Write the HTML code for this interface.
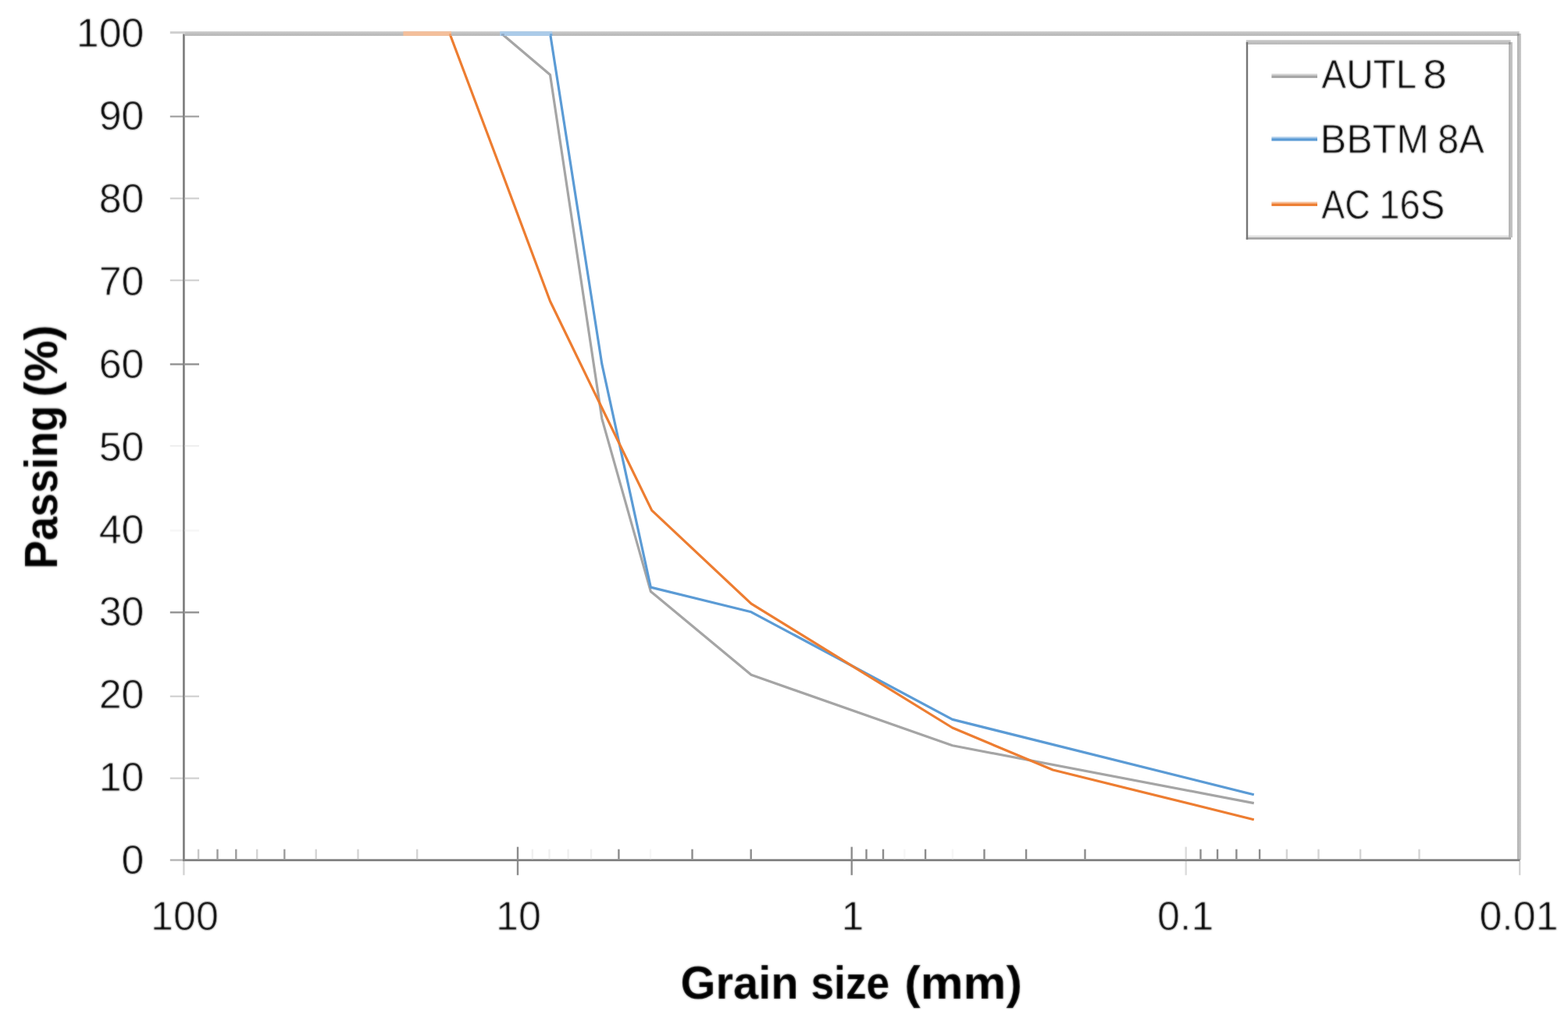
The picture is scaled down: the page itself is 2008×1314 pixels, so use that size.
<!DOCTYPE html>
<html lang="en"><head><meta charset="utf-8"><title>Grain size distribution</title>
<style>html,body{margin:0;padding:0;background:#fff}svg{display:block}text{font-family:"Liberation Sans",sans-serif;fill:#000}text{stroke:#fff;paint-order:fill stroke;stroke-linejoin:round}.t{font-size:52px;stroke-width:.8px}.b{font-size:60px;font-weight:bold;stroke-width:0}</style></head><body>
<svg width="2008" height="1314" viewBox="0 0 2008 1314">
<rect width="2008" height="1314" fill="#fff"/>
<filter id="soft" filterUnits="userSpaceOnUse" x="0" y="0" width="2008" height="1314" color-interpolation-filters="sRGB"><feGaussianBlur in="SourceGraphic" stdDeviation="0.8" result="b"/><feComposite in="b" in2="SourceGraphic" operator="arithmetic" k1="0" k2="0.55" k3="0.45" k4="0"/></filter>
<g>
<g id="series">
<polyline points="642.0,42.8 704.5,95.7 770.8,536.1 833.3,757.4 962.0,864.3 1219.6,954.8 1605.8,1028.6" fill="none" stroke="#a5a5a5" stroke-width="3.2" stroke-linejoin="round" stroke-linecap="butt"/>
<polyline points="642.0,42.8 704.5,42.8 770.8,466.2 833.3,752.1 962.0,783.8 1219.6,921.4 1605.8,1017.8" fill="none" stroke="#5b9bd5" stroke-width="3.2" stroke-linejoin="round" stroke-linecap="butt"/>
<polyline points="518.3,42.8 575.8,42.8 642.0,218.5 704.5,385.8 770.8,522.3 834.7,653.6 962.0,773.2 1090.8,852.6 1219.6,932.0 1348.3,986.0 1605.8,1049.7" fill="none" stroke="#ed7d31" stroke-width="3.2" stroke-linejoin="round" stroke-linecap="butt"/>
</g>
<defs><linearGradient id="gv" x1="0" y1="0" x2="0" y2="1"><stop offset="0" stop-color="#cbcbcb"/><stop offset="1" stop-color="#b5b5b5"/></linearGradient><linearGradient id="gh" x1="0" y1="0" x2="1" y2="0"><stop offset="0" stop-color="#b3b3b3"/><stop offset="1" stop-color="#c7c7c7"/></linearGradient></defs>
<g id="plot-border">
<rect x="237.0" y="40.2" width="1708.6" height="5.7" fill="url(#gv)"/>
<rect x="1942.9" y="43.0" width="5.0" height="1058.4" fill="url(#gh)"/>
<rect x="1942.9" y="43.0" width="2.7" height="2.9" fill="#9a9a9a"/>
<rect x="516.4" y="40.2" width="61.6" height="5.7" fill="#f4bf9b"/>
<rect x="640.2" y="40.2" width="67.1" height="5.7" fill="#abcbe9"/>
<rect x="575.2" y="43.2" width="2.8" height="2.7" fill="#ee9a62"/>
<rect x="642.0" y="43.2" width="4.0" height="2.7" fill="#8fa9c4"/>
<rect x="704.0" y="43.2" width="3.3" height="2.7" fill="#6ea6da"/>
</g>
<g id="axes">
<rect x="234.0" y="43.4" width="2.8" height="1059.6" fill="#838383"/>
<rect x="234.0" y="1100.2" width="1712.5" height="2.8" fill="#838383"/>
</g>
<g id="yticks" stroke-width="2.4">
<line x1="217.8" y1="41.7" x2="237" y2="41.7" stroke="#cfcfcf" stroke-width="3"/>
<line x1="217.8" y1="149.2" x2="234.0" y2="149.2" stroke="#a8a8a8"/>
<line x1="236.8" y1="149.2" x2="255" y2="149.2" stroke="#a8a8a8"/>
<line x1="217.8" y1="254.1" x2="234.0" y2="254.1" stroke="#d4d4d4"/>
<line x1="236.8" y1="254.1" x2="255" y2="254.1" stroke="#d4d4d4"/>
<line x1="217.8" y1="359.0" x2="234.0" y2="359.0" stroke="#d4d4d4"/>
<line x1="236.8" y1="359.0" x2="255" y2="359.0" stroke="#d4d4d4"/>
<line x1="217.8" y1="466.5" x2="234.0" y2="466.5" stroke="#929292"/>
<line x1="236.8" y1="466.5" x2="255" y2="466.5" stroke="#929292"/>
<line x1="217.8" y1="571.1" x2="234.0" y2="571.1" stroke="#f0f0f0"/>
<line x1="236.8" y1="571.1" x2="255" y2="571.1" stroke="#f0f0f0"/>
<line x1="217.8" y1="679.4" x2="234.0" y2="679.4" stroke="#f6f6f6"/>
<line x1="236.8" y1="679.4" x2="255" y2="679.4" stroke="#f6f6f6"/>
<line x1="217.8" y1="784.3" x2="234.0" y2="784.3" stroke="#929292"/>
<line x1="236.8" y1="784.3" x2="255" y2="784.3" stroke="#929292"/>
<line x1="217.8" y1="891.8" x2="234.0" y2="891.8" stroke="#d4d4d4"/>
<line x1="236.8" y1="891.8" x2="255" y2="891.8" stroke="#d4d4d4"/>
<line x1="217.8" y1="996.7" x2="234.0" y2="996.7" stroke="#d4d4d4"/>
<line x1="236.8" y1="996.7" x2="255" y2="996.7" stroke="#d4d4d4"/>
<line x1="217.8" y1="1101.5" x2="234.0" y2="1101.5" stroke="#b4b4b4"/>
</g>
<g id="xticks" stroke-width="2.4">
<line x1="235.4" y1="1103.0" x2="235.4" y2="1120.8" stroke="#d4d4d4"/>
<line x1="663.0" y1="1084.6" x2="663.0" y2="1100.2" stroke="#8c8c8c"/>
<line x1="663.0" y1="1103.0" x2="663.0" y2="1120.8" stroke="#8c8c8c"/>
<line x1="1090.7" y1="1084.6" x2="1090.7" y2="1100.2" stroke="#8c8c8c"/>
<line x1="1090.7" y1="1103.0" x2="1090.7" y2="1120.8" stroke="#8c8c8c"/>
<line x1="1518.7" y1="1084.6" x2="1518.7" y2="1100.2" stroke="#dcdcdc"/>
<line x1="1518.7" y1="1103.0" x2="1518.7" y2="1120.8" stroke="#dcdcdc"/>
<line x1="1946.2" y1="1103.0" x2="1946.2" y2="1120.8" stroke="#d4d4d4"/>
<line x1="254.1" y1="1087.6" x2="254.1" y2="1100.2" stroke="#c8c8c8"/>
<line x1="278.5" y1="1087.6" x2="278.5" y2="1100.2" stroke="#9c9c9c"/>
<line x1="302.3" y1="1087.6" x2="302.3" y2="1100.2" stroke="#9c9c9c"/>
<line x1="329.2" y1="1087.6" x2="329.2" y2="1100.2" stroke="#d4d4d4"/>
<line x1="364.3" y1="1087.6" x2="364.3" y2="1100.2" stroke="#9c9c9c"/>
<line x1="404.7" y1="1087.6" x2="404.7" y2="1100.2" stroke="#d4d4d4"/>
<line x1="458.5" y1="1087.6" x2="458.5" y2="1100.2" stroke="#d4d4d4"/>
<line x1="534.2" y1="1087.6" x2="534.2" y2="1100.2" stroke="#d4d4d4"/>
<line x1="681.8" y1="1087.6" x2="681.8" y2="1100.2" stroke="#f0f0f0"/>
<line x1="703.5" y1="1087.6" x2="703.5" y2="1100.2" stroke="#f0f0f0"/>
<line x1="727.6" y1="1087.6" x2="727.6" y2="1100.2" stroke="#f0f0f0"/>
<line x1="757.0" y1="1087.6" x2="757.0" y2="1100.2" stroke="#f0f0f0"/>
<line x1="792.4" y1="1087.6" x2="792.4" y2="1100.2" stroke="#8c8c8c"/>
<line x1="833.0" y1="1087.6" x2="833.0" y2="1100.2" stroke="#f6f6f6"/>
<line x1="886.5" y1="1087.6" x2="886.5" y2="1100.2" stroke="#8c8c8c"/>
<line x1="961.7" y1="1087.6" x2="961.7" y2="1100.2" stroke="#8c8c8c"/>
<line x1="1109.5" y1="1087.6" x2="1109.5" y2="1100.2" stroke="#8c8c8c"/>
<line x1="1131.0" y1="1087.6" x2="1131.0" y2="1100.2" stroke="#8c8c8c"/>
<line x1="1158.4" y1="1087.6" x2="1158.4" y2="1100.2" stroke="#f6f6f6"/>
<line x1="1185.1" y1="1087.6" x2="1185.1" y2="1100.2" stroke="#8c8c8c"/>
<line x1="1219.9" y1="1087.6" x2="1219.9" y2="1100.2" stroke="#f6f6f6"/>
<line x1="1260.5" y1="1087.6" x2="1260.5" y2="1100.2" stroke="#8c8c8c"/>
<line x1="1314.1" y1="1087.6" x2="1314.1" y2="1100.2" stroke="#8c8c8c"/>
<line x1="1389.5" y1="1087.6" x2="1389.5" y2="1100.2" stroke="#8c8c8c"/>
<line x1="1537.5" y1="1087.6" x2="1537.5" y2="1100.2" stroke="#8c8c8c"/>
<line x1="1559.1" y1="1087.6" x2="1559.1" y2="1100.2" stroke="#8c8c8c"/>
<line x1="1583.4" y1="1087.6" x2="1583.4" y2="1100.2" stroke="#8c8c8c"/>
<line x1="1613.1" y1="1087.6" x2="1613.1" y2="1100.2" stroke="#8c8c8c"/>
<line x1="1647.9" y1="1087.6" x2="1647.9" y2="1100.2" stroke="#d4d4d4"/>
<line x1="1688.5" y1="1087.6" x2="1688.5" y2="1100.2" stroke="#d4d4d4"/>
<line x1="1742.1" y1="1087.6" x2="1742.1" y2="1100.2" stroke="#d4d4d4"/>
<line x1="1817.5" y1="1087.6" x2="1817.5" y2="1100.2" stroke="#d4d4d4"/>
</g>
<g id="legend">
<rect x="1595.8" y="51.2" width="341.2" height="255.5" fill="#fff"/>
<rect x="1595.8" y="51.2" width="338.8" height="5.7" fill="url(#gv)"/>
<rect x="1932.0" y="54.0" width="5.0" height="250.1" fill="url(#gh)"/>
<rect x="1932.0" y="54.0" width="2.6" height="2.9" fill="#9a9a9a"/>
<rect x="1598.2" y="301.5" width="333.8" height="2.6" fill="#e0e0e0"/>
<rect x="1595.8" y="304.1" width="339.2" height="2.6" fill="#a1a1a1"/>
<rect x="1595.8" y="53.9" width="2.4" height="252.8" fill="#767676"/>
<rect x="1628.4" y="94.5" width="58.6" height="2.1" fill="#d2d2d2"/>
<rect x="1628.4" y="96.5" width="58.6" height="3.4" fill="#a5a5a5"/>
<rect x="1628.4" y="175.1" width="58.6" height="2.1" fill="#adcdea"/>
<rect x="1628.4" y="177.1" width="58.6" height="3.4" fill="#5b9bd5"/>
<rect x="1628.4" y="258.5" width="58.6" height="2.1" fill="#f6be98"/>
<rect x="1628.4" y="260.5" width="58.6" height="3.4" fill="#ed7d31"/>
</g>
<g id="labels" filter="url(#soft)">
<text class="t" y="1118.90" text-anchor="end"><tspan x="184.50">0</tspan></text>
<text class="t" y="1013.05" text-anchor="end"><tspan x="184.50">10</tspan></text>
<text class="t" y="907.20" text-anchor="end"><tspan x="184.50">20</tspan></text>
<text class="t" y="801.35" text-anchor="end"><tspan x="184.50">30</tspan></text>
<text class="t" y="695.50" text-anchor="end"><tspan x="184.50">40</tspan></text>
<text class="t" y="589.65" text-anchor="end"><tspan x="184.50">50</tspan></text>
<text class="t" y="483.80" text-anchor="end"><tspan x="184.50">60</tspan></text>
<text class="t" y="377.95" text-anchor="end"><tspan x="184.50">70</tspan></text>
<text class="t" y="272.10" text-anchor="end"><tspan x="184.50">80</tspan></text>
<text class="t" y="166.25" text-anchor="end"><tspan x="184.50">90</tspan></text>
<text class="t" y="60.40" text-anchor="end"><tspan x="184.50">100</tspan></text>
<text class="t" y="1191.30" text-anchor="middle"><tspan x="236.50">100</tspan></text>
<text class="t" y="1191.30" text-anchor="middle"><tspan x="664.00">10</tspan></text>
<text class="t" y="1191.30" text-anchor="middle"><tspan x="1091.90">1</tspan></text>
<text class="t" y="1191.30" text-anchor="middle"><tspan x="1518.20">0.1</tspan></text>
<text class="t" y="1191.30" text-anchor="middle"><tspan x="1945.00">0.01</tspan></text>
<text class="t" y="112.60" text-anchor="start"><tspan x="1692.30" textLength="120.24" lengthAdjust="spacingAndGlyphs">AUTL</tspan> <tspan x="1822.30" textLength="30.67" lengthAdjust="spacingAndGlyphs">8</tspan></text>
<text class="t" y="196.00" text-anchor="start"><tspan x="1690.80" textLength="139.15" lengthAdjust="spacingAndGlyphs">BBTM</tspan> <tspan x="1841.00" textLength="59.97" lengthAdjust="spacingAndGlyphs">8A</tspan></text>
<text class="t" y="279.80" text-anchor="start"><tspan x="1692.30" textLength="62.45" lengthAdjust="spacingAndGlyphs">AC</tspan> <tspan x="1766.20" textLength="83.93" lengthAdjust="spacingAndGlyphs">16S</tspan></text>
<text class="b" y="1279.40" text-anchor="start"><tspan x="871.60" textLength="150.98" lengthAdjust="spacingAndGlyphs">Grain</tspan> <tspan x="1038.40" textLength="100.94" lengthAdjust="spacingAndGlyphs">size</tspan> <tspan x="1158.20" textLength="150.84" lengthAdjust="spacingAndGlyphs">(mm)</tspan></text>
<text class="b" y="0.00" text-anchor="start" transform="translate(73.00 724.70) rotate(-90)"><tspan x="-4.00" textLength="209.38" lengthAdjust="spacingAndGlyphs">Passing</tspan> <tspan x="216.20" textLength="92.24" lengthAdjust="spacingAndGlyphs">(%)</tspan></text>
</g>
</g>
</svg></body></html>
